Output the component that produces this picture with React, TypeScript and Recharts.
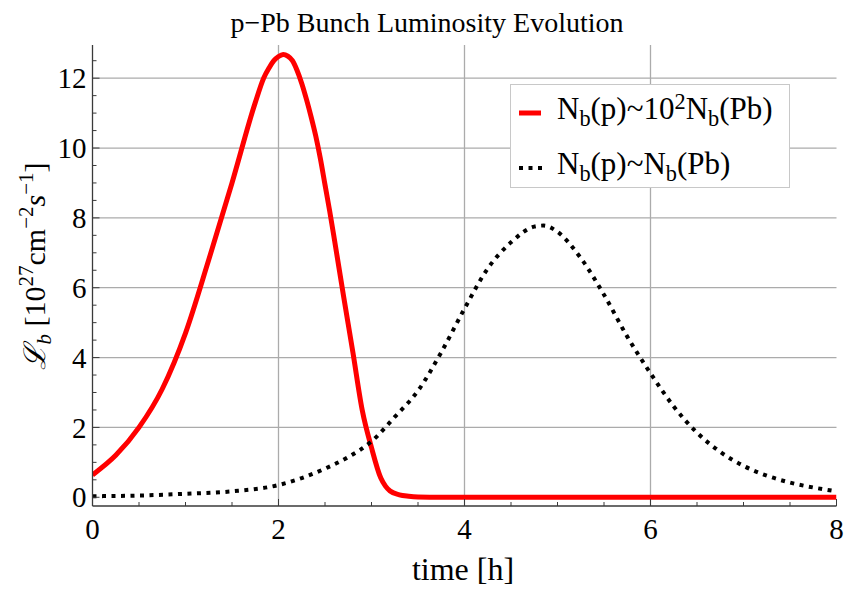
import React from 'react';
import { LineChart, Line, XAxis, YAxis, ReferenceLine, Legend } from 'recharts';

// ---- data ----
const redT = [0, 0.25, 0.5, 0.75, 1.0, 1.25, 1.5, 1.75, 1.84, 1.9, 1.95, 2.0, 2.05, 2.1, 2.15, 2.2, 2.25, 2.3, 2.35, 2.4, 2.45, 2.5, 2.55, 2.6, 2.7, 2.8, 2.9, 3.0, 3.1, 3.15, 3.2, 3.3, 3.4, 3.5, 3.75, 4, 5, 6, 7, 8];
const redV = [0.64, 1.2, 2.0, 3.1, 4.7, 6.8, 9.0, 11.3, 12.0, 12.3, 12.5, 12.62, 12.68, 12.63, 12.5, 12.22, 11.85, 11.4, 10.9, 10.35, 9.7, 8.95, 8.2, 7.4, 5.75, 4.15, 2.5, 1.42, 0.55, 0.32, 0.18, 0.07, 0.03, 0.01, 0, 0, 0, 0, 0, 0];
const blackT = [0, 0.5, 1.0, 1.5, 2.0, 2.25, 2.5, 2.75, 3.0, 3.25, 3.5, 3.75, 4.0, 4.25, 4.5, 4.75, 4.85, 5.0, 5.25, 5.5, 5.75, 6.0, 6.25, 6.5, 6.75, 7.0, 7.25, 7.5, 7.75, 8.0];
const blackV = [0.03, 0.05, 0.1, 0.17, 0.35, 0.55, 0.82, 1.15, 1.6, 2.3, 3.05, 4.15, 5.4, 6.55, 7.3, 7.75, 7.78, 7.6, 6.85, 5.8, 4.6, 3.55, 2.6, 1.85, 1.3, 0.9, 0.62, 0.42, 0.28, 0.17];

const xTicks = [0, 0.5, 1, 1.5, 2, 2.5, 3, 3.5, 4, 4.5, 5, 5.5, 6, 6.5, 7, 7.5, 8];
const xMajor = [0, 2, 4, 6, 8];
const yTicks = [0, 0.5, 1, 1.5, 2, 2.5, 3, 3.5, 4, 4.5, 5, 5.5, 6, 6.5, 7, 7.5, 8, 8.5, 9, 9.5, 10, 10.5, 11, 11.5, 12, 12.5];
const yMajor = [0, 2, 4, 6, 8, 10, 12];
const xGrid = [2, 4, 6];
const yGrid = [2, 4, 6, 8, 10, 12];

const seriesNames = ['Nb(p)~10^2Nb(Pb)', 'Nb(p)~Nb(Pb)'];
type Part = { t: string; sub?: boolean; sup?: boolean };
const legendLabels: Part[][] = [
  [{ t: 'N' }, { t: 'b', sub: true }, { t: '(p)~10' }, { t: '2', sup: true }, { t: 'N' }, { t: 'b', sub: true }, { t: '(Pb)' }],
  [{ t: 'N' }, { t: 'b', sub: true }, { t: '(p)~N' }, { t: 'b', sub: true }, { t: '(Pb)' }],
];
const titleText = 'p\u2212Pb Bunch Luminosity Evolution';
const xLabelText = 'time [h]';

const redData = redT.map((t, i) => ({ t, v: redV[i] }));
const blackData = blackT.map((t, i) => ({ t, v: blackV[i] }));

// ---- styling ----
const FONT = '"Liberation Serif", "Times New Roman", serif';
const AXIS = '#3a3a3a';
const GRID = '#ababab';
const MAJ = 7;
const MIN = 4;
const FS = 29;
const BOTTOM_MARGIN = 12;
const LEFT_MARGIN = 6;

function BottomTick(props: any) {
  const { x, y, payload } = props;
  const v = payload.value;
  const major = xMajor.includes(v);
  const ay = y - BOTTOM_MARGIN;
  return (
    <g>
      <line x1={x} x2={x} y1={ay} y2={ay - (major ? MAJ : MIN)} stroke={AXIS} strokeWidth={1} />
      {major && (
        <text x={x} y={y} dy="0.71em" textAnchor="middle" fontFamily={FONT} fontSize={FS} fill="#000">
          {v}
        </text>
      )}
    </g>
  );
}

function TopTick(props: any) {
  const { x, y, payload } = props;
  const major = xMajor.includes(payload.value);
  return <line x1={x} x2={x} y1={y} y2={y + (major ? MAJ : MIN)} stroke={AXIS} strokeWidth={1} />;
}

function LeftTick(props: any) {
  const { x, y, payload } = props;
  const v = payload.value;
  const major = yMajor.includes(v);
  const ax = x + LEFT_MARGIN;
  return (
    <g>
      <line x1={ax} x2={ax + (major ? MAJ : MIN)} y1={y} y2={y} stroke={AXIS} strokeWidth={1} />
      {major && (
        <text x={x} y={y} dy="0.35em" textAnchor="end" fontFamily={FONT} fontSize={FS} fill="#000">
          {v}
        </text>
      )}
    </g>
  );
}

function RightTick(props: any) {
  const { x, y, payload } = props;
  const major = yMajor.includes(payload.value);
  return <line x1={x} x2={x - (major ? MAJ : MIN)} y1={y} y2={y} stroke={AXIS} strokeWidth={1} />;
}

function XLabel() {
  return (
    <g>
      <text x={427} y={32} textAnchor="middle" fontFamily={FONT} fontSize={28} fill="#000">
        {titleText}
      </text>
      <text x={463} y={580} textAnchor="middle" fontFamily={FONT} fontSize={32} fill="#000">
        {xLabelText}
      </text>
    </g>
  );
}

function YLabel() {
  const s = 21;
  return (
    <text transform="translate(45,266) rotate(-90)" x={0} y={0} textAnchor="middle" fontFamily={FONT} fontSize={30} fill="#000">
      <tspan fontStyle="italic">{'\u2112'}</tspan>
      <tspan fontStyle="italic" fontSize={s} dy={6}>b</tspan>
      <tspan dy={-6}>{' [10'}</tspan>
      <tspan fontSize={s} dy={-12}>27</tspan>
      <tspan dy={12}>cm</tspan>
      <tspan fontSize={s} dy={-12}>{'\u22122'}</tspan>
      <tspan dy={12} fontStyle="italic">s</tspan>
      <tspan fontSize={s} dy={-12}>{'\u22121'}</tspan>
      <tspan dy={12}>]</tspan>
    </text>
  );
}

function LegendBox(props: any) {
  const payload = props.payload || [];
  return (
    <div
      style={{
        width: 280,
        height: 104,
        boxSizing: 'border-box',
        border: '1px solid #c8c8c8',
        background: '#fff',
        position: 'relative',
        fontFamily: FONT,
        fontSize: 31,
        color: '#000',
      }}
    >
      {legendLabels.map((parts, i) => {
        const entry = payload[i] || {};
        const color = entry.color || (i === 0 ? '#ff0000' : '#000');
        return (
          <div
            key={i}
            style={{ position: 'absolute', left: 0, top: i === 0 ? 6 : 61, height: 44, width: 278, whiteSpace: 'nowrap' }}
          >
            <svg width={24} height={10} style={{ position: 'absolute', left: 8, top: 17 }}>
              {i === 0 ? (
                <line x1={0} x2={22} y1={5} y2={5} stroke={color} strokeWidth={5} />
              ) : (
                <line x1={0} x2={23} y1={5} y2={5} stroke={color} strokeWidth={4} strokeDasharray="4 5.5" />
              )}
            </svg>
            <span style={{ position: 'absolute', left: 46, top: -2, lineHeight: '40px' }}>
              {parts.map((p, k) => (
                <span
                  key={k}
                  style={
                    p.sub
                      ? { fontSize: '0.72em', position: 'relative', top: '0.3em' }
                      : p.sup
                      ? { fontSize: '0.72em', position: 'relative', top: '-0.45em' }
                      : undefined
                  }
                >
                  {p.t}
                </span>
              ))}
            </span>
          </div>
        );
      })}
    </div>
  );
}

export default function App() {
  return (
    <div style={{ position: 'absolute', left: 0, top: 0, background: '#fff' }}>
      <LineChart width={844} height={590} margin={{ top: 45, right: 7.5, bottom: 34, left: 0 }}>
        <XAxis
          xAxisId="b"
          type="number"
          dataKey="t"
          domain={[0, 8]}
          ticks={xTicks}
          interval={0}
          height={50}
          tickSize={0}
          tickMargin={BOTTOM_MARGIN}
          tickLine={false}
          tick={BottomTick}
          axisLine={{ stroke: AXIS, strokeWidth: 1.3 }}
          allowDataOverflow
          label={XLabel}
        />
        <XAxis
          xAxisId="t"
          orientation="top"
          type="number"
          dataKey="t"
          domain={[0, 8]}
          ticks={xTicks}
          interval={0}
          height={0}
          tickSize={0}
          tickMargin={0}
          tickLine={false}
          tick={TopTick}
          axisLine={{ stroke: AXIS, strokeWidth: 1.3 }}
          allowDataOverflow
        />
        <YAxis
          yAxisId="l"
          type="number"
          domain={[-0.25, 12.95]}
          ticks={yTicks}
          interval={0}
          width={92.5}
          tickSize={0}
          tickMargin={LEFT_MARGIN}
          tickLine={false}
          tick={LeftTick}
          axisLine={{ stroke: AXIS, strokeWidth: 1.3 }}
          allowDataOverflow
          label={YLabel}
        />
        <YAxis
          yAxisId="r"
          orientation="right"
          type="number"
          domain={[-0.25, 12.95]}
          ticks={yTicks}
          interval={0}
          width={0}
          tickSize={0}
          tickMargin={0}
          tickLine={false}
          tick={RightTick}
          axisLine={{ stroke: AXIS, strokeWidth: 1.3 }}
          allowDataOverflow
        />
        {xGrid.map((g) => (
          <ReferenceLine key={'xg' + g} xAxisId="b" yAxisId="l" x={g} stroke={GRID} strokeWidth={1.3} />
        ))}
        {yGrid.map((g) => (
          <ReferenceLine key={'yg' + g} xAxisId="b" yAxisId="l" y={g} stroke={GRID} strokeWidth={1.3} />
        ))}
        <Line
          xAxisId="b"
          yAxisId="l"
          data={redData}
          dataKey="v"
          name={seriesNames[0]}
          type="monotone"
          stroke="#ff0000"
          strokeWidth={5}
          dot={false}
          activeDot={false}
          isAnimationActive={false}
        />
        <Line
          xAxisId="b"
          yAxisId="l"
          data={blackData}
          dataKey="v"
          name={seriesNames[1]}
          type="monotone"
          stroke="#000000"
          strokeWidth={4}
          strokeDasharray="4 5.5"
          dot={false}
          activeDot={false}
          isAnimationActive={false}
        />
        <Legend
          layout="vertical"
          align="center"
          verticalAlign="middle"
          content={LegendBox}
          wrapperStyle={{ position: 'absolute', left: 510, top: 84, width: 280, height: 104 }}
        />
      </LineChart>
    </div>
  );
}
